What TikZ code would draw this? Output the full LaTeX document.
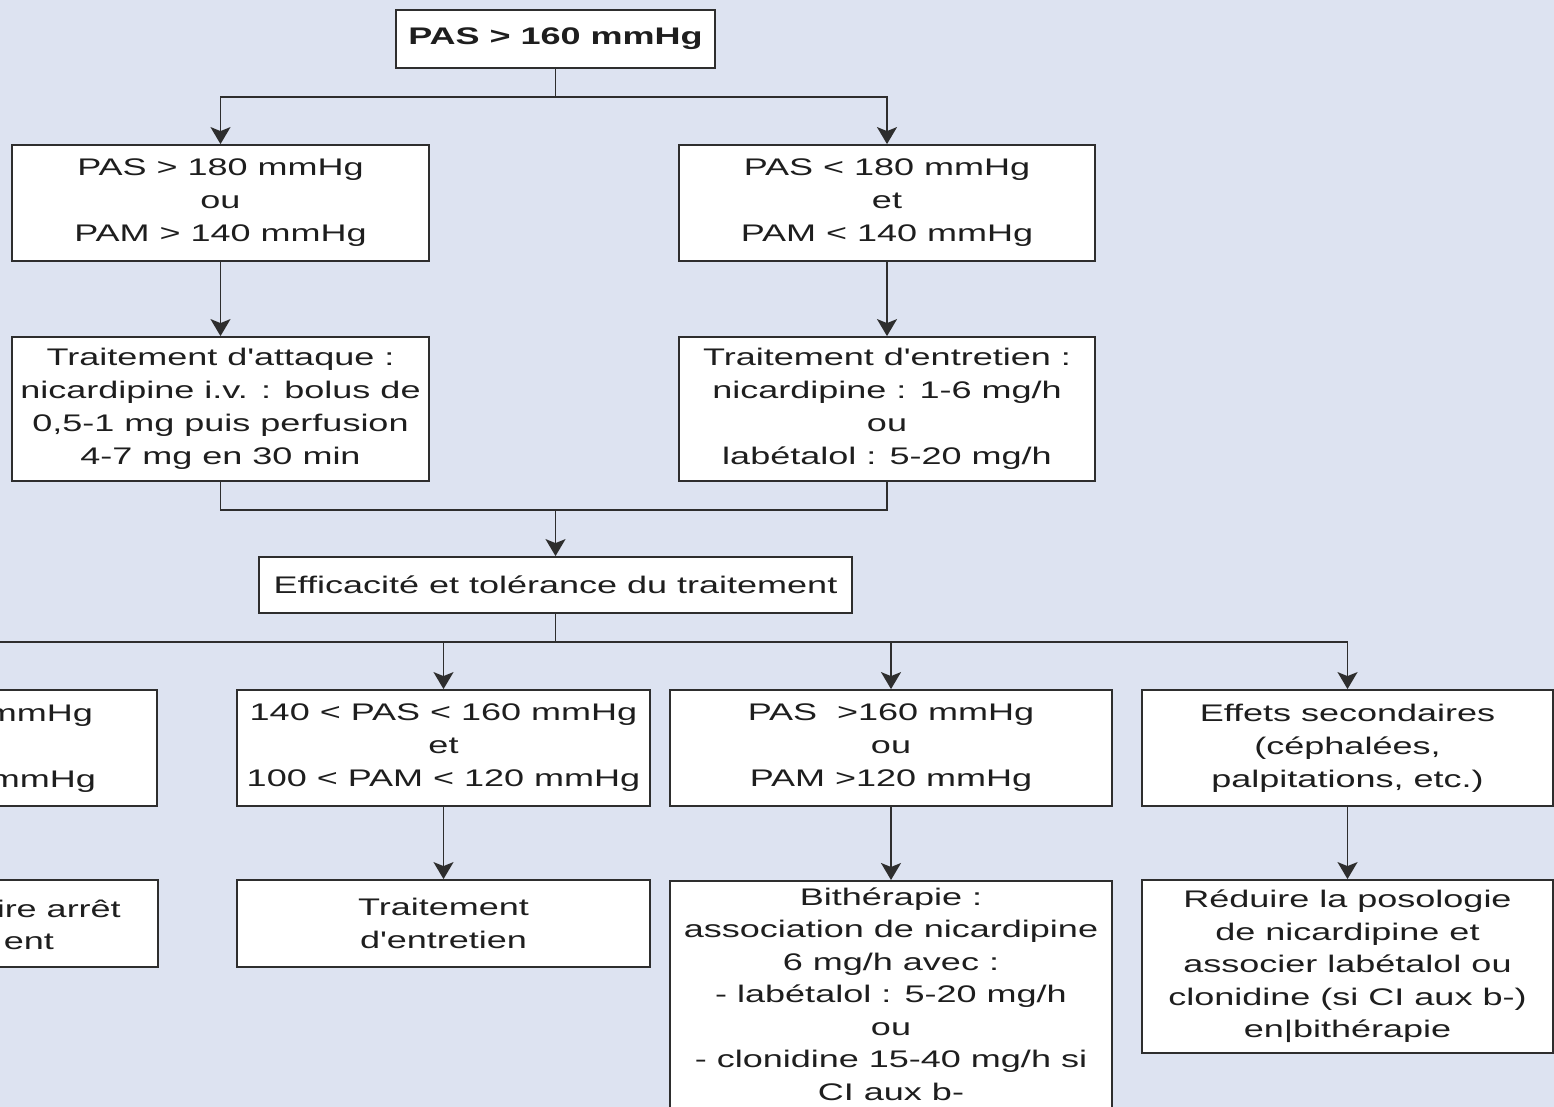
\documentclass[tikz,border=0pt]{standalone}
\usepackage{fontspec}
\setmainfont[FakeStretch=1.5, Ligatures=TeXOff]{Liberation Sans}
\usetikzlibrary{arrows.meta}
\definecolor{bgc}{HTML}{DDE3F1}
\definecolor{linec}{HTML}{2E2E2E}
\definecolor{txtc}{HTML}{1E1E1E}
\tikzset{
  box/.style={draw=linec, line width=1.8pt, fill=white, align=center, inner sep=0pt,
    text=txtc, font=\fontsize{24}{33}\selectfont},
  frag/.style={inner sep=0pt, text=txtc, font=\fontsize{24}{33}\selectfont},
  conn/.style={draw=linec, line width=1.8pt},
  arr/.style={conn, -{Stealth[length=17pt,width=20pt,inset=4pt]}}
}
\begin{document}
\begin{tikzpicture}[x=1pt,y=-1pt]
\useasboundingbox (0,0) rectangle (1554,1107);
\fill[bgc] (0,0) rectangle (1554,1107);
\clip (0,0) rectangle (1554,1107);

% top
\node[box, minimum width=319pt, minimum height=58pt, font=\fontsize{24}{33}\selectfont\bfseries] (top) at (555.5,39) {PAS > 160 mmHg};

% level 1
\node[box, minimum width=417pt, minimum height=116pt] (A1) at (220.5,203) {PAS > 180 mmHg\\ou\\PAM > 140 mmHg};
\node[box, minimum width=416pt, minimum height=116pt] (B1) at (887,203) {PAS < 180 mmHg\\et\\PAM < 140 mmHg};

% level 2
\node[box, minimum width=417pt, minimum height=144pt] (A2) at (220.5,409) {Traitement d'attaque :\\nicardipine i.v. : bolus de\\0,5-1 mg puis perfusion\\4-7 mg en 30 min};
\node[box, minimum width=416pt, minimum height=144pt] (B2) at (887,409) {Traitement d'entretien :\\nicardipine : 1-6 mg/h\\ou\\labétalol : 5-20 mg/h};

% level 3
\node[box, minimum width=593pt, minimum height=56pt] (C) at (555.5,585) {Efficacité et tolérance du traitement};

% level 4
\node[box, minimum width=300pt, minimum height=116pt] (D0) at (7,748) {};
\node[frag, anchor=east] (D0a) at (93,716) {mmHg};
\node[frag, anchor=east] (D0b) at (96,782) {mmHg};
\node[box, minimum width=413pt, minimum height=116pt] (D1) at (443.5,748) {140 < PAS < 160 mmHg\\et\\100 < PAM < 120 mmHg};
\node[box, minimum width=442pt, minimum height=116pt] (D2) at (891,748) {PAS \ >160 mmHg\\ou\\PAM >120 mmHg};
\node[box, minimum width=411pt, minimum height=116pt] (D3) at (1347.5,748) {Effets secondaires\\(céphalées,\\palpitations, etc.)};

% level 5
\node[box, minimum width=300pt, minimum height=87pt] (E0) at (8,923.5) {};
\node[frag, anchor=east] (E0a) at (121,909) {ire arrêt};
\node[frag, anchor=east] (E0b) at (54,942) {ent};
\node[box, minimum width=413pt, minimum height=87pt] (E1) at (443.5,923.5) {Traitement\\d'entretien};
\node[box, minimum width=442pt, minimum height=258.5pt, anchor=north, font=\fontsize{24}{32.5}\selectfont] (E2) at (891,880) {Bithérapie :\\association de nicardipine\\6 mg/h avec :\\- labétalol : 5-20 mg/h\\ou\\- clonidine 15-40 mg/h si\\CI aux b-\\\mbox{}};
\node[box, minimum width=411pt, minimum height=173pt, font=\fontsize{24}{32.5}\selectfont] (E3) at (1347.5,966.5) {Réduire la posologie\\de nicardipine et\\associer labétalol ou\\clonidine (si CI aux b-)\\en|bithérapie};

% connectors
\coordinate (j1) at (555.5,97);
\coordinate (j2) at (555.5,510);
\coordinate (j3) at (555.5,642);
\coordinate (jl) at (-30,642);

\draw[conn] (top.south) -- (j1);
\draw[arr] (j1) -| (A1.north);
\draw[arr] (j1) -| (B1.north);
\draw[arr] (A1.south) -- (A2.north);
\draw[arr] (B1.south) -- (B2.north);
\draw[conn] (A2.south) |- (j2) -| (B2.south);
\draw[arr] (j2) -- (C.north);
\draw[conn] (C.south) -- (j3);
\draw[conn] (j3) -- (jl);
\draw[arr] (j3) -| (D1.north);
\draw[arr] (j3) -| (D2.north);
\draw[arr] (j3) -| (D3.north);
\draw[arr] (D1.south) -- (E1.north);
\draw[arr] (D2.south) -- (E2.north);
\draw[arr] (D3.south) -- (E3.north);
\end{tikzpicture}
\end{document}
